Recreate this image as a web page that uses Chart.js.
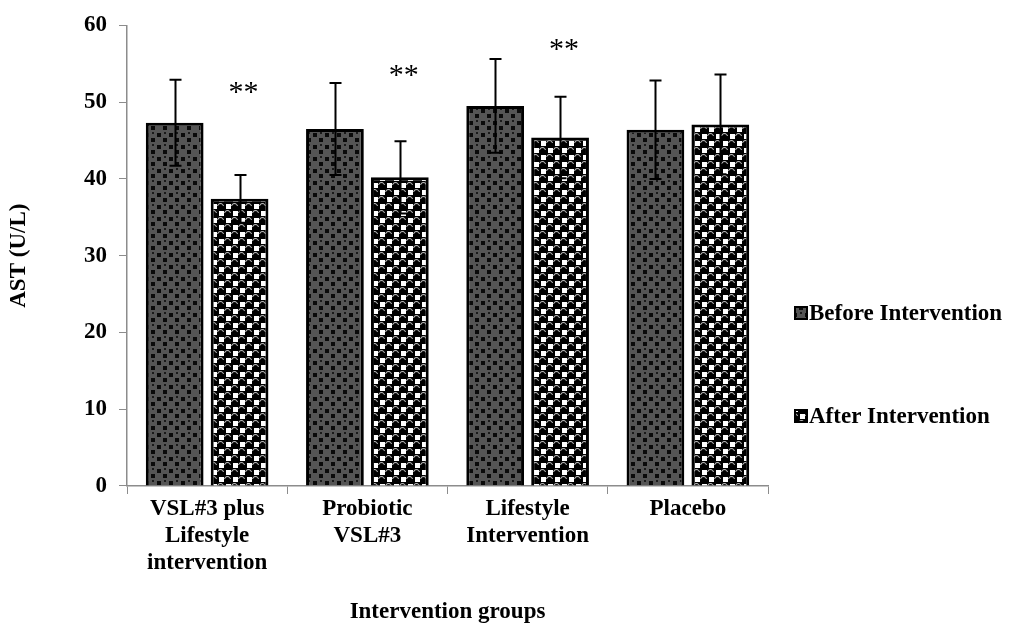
<!DOCTYPE html>
<html><head><meta charset="utf-8">
<script src="https://cdn.jsdelivr.net/npm/chart.js@4/dist/chart.umd.min.js"></script>
<style>html,body{margin:0;padding:0;background:#fff}#wrap{width:1010px;height:629px}</style>
</head><body><div id="wrap"><canvas id="c" width="1010" height="629"></canvas></div>
<script>
const categories = [["VSL#3 plus","Lifestyle","intervention"],["Probiotic","VSL#3"],["Lifestyle","Intervention"],["Placebo"]];
const seriesNames = ["Before Intervention","After Intervention"];
const beforeValues = [47.3, 46.5, 49.5, 46.4];
const beforeErrors = [5.6, 6.0, 6.1, 6.4];
const afterValues = [37.4, 40.2, 45.4, 47.1];
const afterErrors = [3.1, 4.7, 5.3, 6.5];
const starLabels = ["**", "**", "**", ""];
const starLevels = [51.6, 53.8, 57.2, null];
const yTicks = [0, 10, 20, 30, 40, 50, 60];
const xTitle = "Intervention groups";
const yTitle = "AST (U/L)";

const FONT = {family: "'Liberation Serif','Times New Roman',serif", size: 23, weight: 'bold', lineHeight: 1.16};

function beforePattern() {
  const c = document.createElement('canvas'); c.width = 12; c.height = 12;
  const g = c.getContext('2d');
  g.fillStyle = '#555555'; g.fillRect(0, 0, 12, 12);
  g.fillStyle = '#0a0a0a';
  g.fillRect(1, 1, 4, 4); g.fillRect(7, 6, 4, 4);
  g.fillStyle = '#1a1a1a'; g.fillRect(8, 0, 2, 2);
  return g.createPattern(c, 'repeat');
}
function afterPattern() {
  const c = document.createElement('canvas'); c.width = 14; c.height = 14;
  const g = c.getContext('2d');
  g.fillStyle = '#000'; g.fillRect(0, 0, 14, 14);
  g.fillStyle = '#fff';
  g.fillRect(9, 1, 5, 5); g.fillRect(2, 8, 5, 5);
  g.strokeStyle = '#cfcfcf'; g.lineWidth = 1;
  g.beginPath(); g.arc(3.5, 3.5, 3, Math.PI * 1.05, Math.PI * 1.95); g.stroke();
  g.beginPath(); g.arc(10.5, 10.5, 3, Math.PI * 1.05, Math.PI * 1.95); g.stroke();
  return g.createPattern(c, 'repeat');
}
const pBefore = beforePattern();
const pAfter = afterPattern();
const errorsBySeries = [beforeErrors, afterErrors];

const errPlugin = {
  id: 'errbars',
  afterDatasetsDraw(chart) {
    const ctx = chart.ctx, y = chart.scales.y;
    ctx.save();
    ctx.strokeStyle = '#000'; ctx.lineWidth = 2;
    chart.data.datasets.forEach((ds, i) => {
      const meta = chart.getDatasetMeta(i);
      meta.data.forEach((bar, j) => {
        const v = ds.data[j], e = errorsBySeries[i][j];
        const yt = y.getPixelForValue(v + e), yb = y.getPixelForValue(v - e);
        const x = Math.round(bar.x) + 0.5, cap = 6;
        ctx.beginPath();
        ctx.moveTo(x, yt); ctx.lineTo(x, yb);
        ctx.moveTo(x - cap, yt); ctx.lineTo(x + cap, yt);
        ctx.moveTo(x - cap, yb); ctx.lineTo(x + cap, yb);
        ctx.stroke();
      });
    });
    // significance stars over the after bars
    const meta = chart.getDatasetMeta(1);
    ctx.fillStyle = '#000';
    ctx.font = "30px 'Liberation Serif','Times New Roman',serif";
    ctx.textAlign = 'center'; ctx.textBaseline = 'middle';
    meta.data.forEach((bar, j) => {
      if (starLevels[j] == null) return;
      ctx.fillText(starLabels[j], bar.x + 4, y.getPixelForValue(starLevels[j]) + 3);
    });
    // legend
    const legendY = [313, 416], legendX = 795;
    ctx.font = "bold 23px 'Liberation Serif','Times New Roman',serif";
    ctx.textAlign = 'left';
    chart.data.datasets.forEach((ds, i) => {
      const ly = legendY[i];
      ctx.fillStyle = ds.backgroundColor;
      ctx.fillRect(legendX, ly - 6, 12, 12);
      ctx.lineWidth = 2; ctx.strokeStyle = '#000';
      ctx.strokeRect(legendX, ly - 6, 12, 12);
      ctx.fillStyle = '#000';
      ctx.fillText(ds.label, legendX + 14, ly + 1);
    });
    ctx.restore();
  }
};

new Chart(document.getElementById('c').getContext('2d'), {
  type: 'bar',
  data: {
    labels: categories,
    datasets: [
      {label: seriesNames[0], data: beforeValues, backgroundColor: pBefore, borderColor: '#000', borderWidth: 3, categoryPercentage: 0.81, barPercentage: 0.89},
      {label: seriesNames[1], data: afterValues, backgroundColor: pAfter, borderColor: '#000', borderWidth: 3, categoryPercentage: 0.81, barPercentage: 0.89}
    ]
  },
  options: {
    responsive: false, animation: false, devicePixelRatio: 1,
    layout: {padding: {top: 20, right: 242, left: 0, bottom: 0}},
    plugins: {legend: {display: false}, tooltip: {enabled: false}},
    scales: {
      x: {
        grid: {display: true, drawOnChartArea: false, drawTicks: true, tickLength: 8, color: '#8c8c8c', offset: true},
        border: {color: '#8c8c8c', width: 1.5},
        ticks: {font: FONT, color: '#000', padding: 2, maxRotation: 0},
        title: {display: true, text: xTitle, font: FONT, color: '#000', padding: {top: 20}},
        afterFit(s) { s.height = 143; }
      },
      y: {
        min: 0, max: 60,
        afterBuildTicks(s) { s.ticks = yTicks.map(v => ({value: v})); },
        grid: {drawOnChartArea: false, tickLength: 8, color: '#8c8c8c'},
        border: {color: '#8c8c8c', width: 1.5},
        ticks: {font: FONT, color: '#000', padding: 12},
        title: {display: true, text: yTitle, font: FONT, color: '#000', padding: {top: 6, bottom: 18}},
        afterFit(s) { s.width = 127; }
      }
    }
  },
  plugins: [errPlugin]
});
</script>
</body></html>
